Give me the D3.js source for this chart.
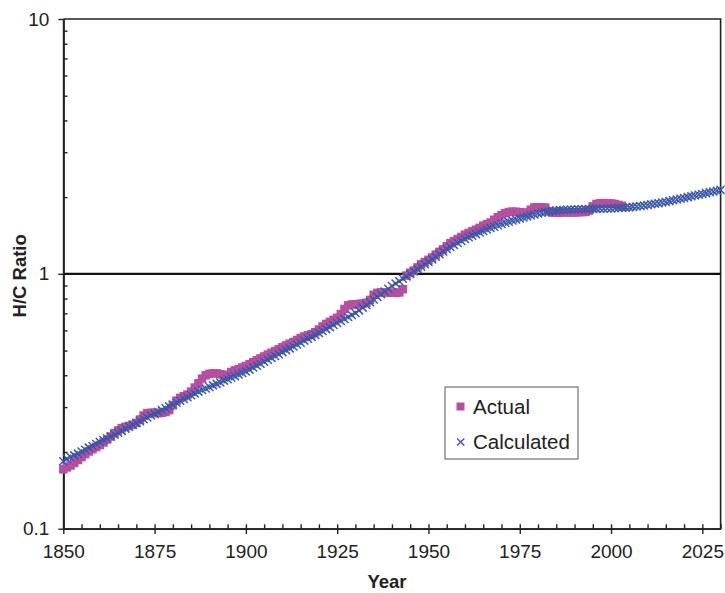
<!DOCTYPE html>
<html>
<head>
<meta charset="utf-8">
<script src="https://cdn.jsdelivr.net/npm/d3@7"></script>
<style>
  body { margin: 0; background: #fff; }
  svg { display: block; font-family: "Liberation Sans", Arial, sans-serif; }
</style>
</head>
<body>
<svg id="chart" width="725" height="593"></svg>
<script>
// H/C ratio, actual (1850-2003) and calculated (1850-2030), one value per year
const actualYears = d3.range(1850, 2004);
const actualValues = [
  0.171, 0.174, 0.177, 0.181, 0.186, 0.191, 0.196, 0.201, 0.205, 0.209,
  0.213, 0.218, 0.224, 0.230, 0.237, 0.243, 0.248, 0.251, 0.253, 0.256,
  0.260, 0.268, 0.278, 0.284, 0.285, 0.285, 0.284, 0.285, 0.287, 0.292,
  0.305, 0.318, 0.326, 0.331, 0.336, 0.345, 0.358, 0.372, 0.388, 0.400,
  0.405, 0.407, 0.407, 0.404, 0.398, 0.402, 0.412, 0.418, 0.423, 0.429,
  0.435, 0.442, 0.450, 0.458, 0.466, 0.474, 0.482, 0.490, 0.498, 0.506,
  0.515, 0.524, 0.532, 0.540, 0.550, 0.560, 0.568, 0.574, 0.580, 0.590,
  0.605, 0.622, 0.636, 0.648, 0.660, 0.672, 0.695, 0.728, 0.752, 0.758,
  0.760, 0.762, 0.765, 0.770, 0.790, 0.828, 0.842, 0.846, 0.846, 0.844,
  0.843, 0.842, 0.845, 0.870, 0.985, 1.010, 1.030, 1.060, 1.090, 1.112,
  1.135, 1.160, 1.190, 1.220, 1.248, 1.285, 1.320, 1.345, 1.370, 1.395,
  1.425, 1.447, 1.468, 1.490, 1.515, 1.545, 1.565, 1.590, 1.630, 1.668,
  1.700, 1.730, 1.748, 1.755, 1.752, 1.745, 1.740, 1.735, 1.785, 1.822,
  1.826, 1.825, 1.820, 1.760, 1.738, 1.735, 1.738, 1.745, 1.742, 1.740,
  1.742, 1.745, 1.748, 1.750, 1.770, 1.840, 1.880, 1.892, 1.895, 1.893,
  1.890, 1.880, 1.865, 1.850
];

const calcYears = d3.range(1850, 2031);
const calcValues = [
  0.184, 0.188, 0.191, 0.194, 0.197, 0.201, 0.204, 0.208, 0.211, 0.215,
  0.219, 0.223, 0.226, 0.230, 0.234, 0.238, 0.242, 0.247, 0.251, 0.255,
  0.260, 0.264, 0.269, 0.273, 0.278, 0.282, 0.287, 0.292, 0.297, 0.302,
  0.307, 0.312, 0.318, 0.323, 0.328, 0.334, 0.339, 0.345, 0.350, 0.355,
  0.360, 0.365, 0.370, 0.375, 0.381, 0.386, 0.392, 0.397, 0.403, 0.408,
  0.414, 0.421, 0.429, 0.436, 0.444, 0.452, 0.460, 0.468, 0.476, 0.484,
  0.493, 0.502, 0.510, 0.519, 0.528, 0.537, 0.547, 0.556, 0.566, 0.576,
  0.586, 0.597, 0.607, 0.618, 0.630, 0.641, 0.653, 0.665, 0.677, 0.689,
  0.702, 0.719, 0.737, 0.755, 0.774, 0.793, 0.812, 0.832, 0.853, 0.874,
  0.896, 0.916, 0.936, 0.956, 0.977, 0.999, 1.021, 1.043, 1.066, 1.090,
  1.114, 1.140, 1.167, 1.195, 1.223, 1.252, 1.275, 1.298, 1.322, 1.346,
  1.371, 1.391, 1.411, 1.432, 1.453, 1.474, 1.493, 1.512, 1.531, 1.550,
  1.570, 1.586, 1.602, 1.618, 1.634, 1.650, 1.665, 1.680, 1.695, 1.710,
  1.726, 1.737, 1.747, 1.756, 1.765, 1.774, 1.778, 1.781, 1.784, 1.787,
  1.790, 1.792, 1.793, 1.795, 1.796, 1.798, 1.799, 1.801, 1.802, 1.804,
  1.806, 1.809, 1.812, 1.816, 1.819, 1.823, 1.831, 1.839, 1.847, 1.855,
  1.864, 1.874, 1.884, 1.894, 1.904, 1.915, 1.929, 1.943, 1.957, 1.971,
  1.986, 2.000, 2.015, 2.029, 2.044, 2.059, 2.074, 2.089, 2.104, 2.120,
  2.135
];

const xTicks = [1850, 1875, 1900, 1925, 1950, 1975, 2000, 2025];
const xMinorTicks = d3.range(1850, 2031, 5);
const yTicks = [0.1, 1, 10];
const yTickLabels = ["0.1", "1", "10"];
const yMinorTicks = [0.2, 0.3, 0.4, 0.5, 0.6, 0.7, 0.8, 0.9, 2, 3, 4, 5, 6, 7, 8, 9];
const seriesNames = ["Actual", "Calculated"];

const pink = "#b64f9f";
const blue = "#3b57a8";
const ink = "#222";

const plotL = 63.3, plotR = 720.6, plotT = 19, plotB = 528.7;

const svg = d3.select("#chart");

const x = d3.scaleLinear().domain([1850, 2030]).range([plotL, plotR]);
const y = d3.scaleLog().domain([0.1, 10]).range([plotB, plotT]);

// frame (top + right)
svg.append("path")
  .attr("d", `M${plotL},${plotT}H${plotR}V${plotB}`)
  .attr("fill", "none")
  .attr("stroke", ink)
  .attr("stroke-width", 1.6);

// line at 1
svg.append("line")
  .attr("x1", plotL).attr("x2", plotR)
  .attr("y1", y(1)).attr("y2", y(1))
  .attr("stroke", "#111")
  .attr("stroke-width", 2.2);

// y axis: major ticks outward, minor inward
svg.append("g")
  .attr("transform", `translate(${plotL},0)`)
  .call(d3.axisLeft(y).tickValues(yTicks)
    .tickFormat((d, i) => yTickLabels[i])
    .tickSizeInner(5).tickSizeOuter(0).tickPadding(9));
svg.append("g")
  .attr("transform", `translate(${plotL},0)`)
  .call(d3.axisLeft(y).tickValues(yMinorTicks).tickFormat("")
    .tickSizeInner(-4.2).tickSizeOuter(0));

// x axis
svg.append("g")
  .attr("transform", `translate(0,${plotB})`)
  .call(d3.axisBottom(x).tickValues(xTicks).tickFormat(d3.format("d"))
    .tickSizeInner(5.3).tickSizeOuter(0).tickPadding(11));
svg.append("g")
  .attr("transform", `translate(0,${plotB})`)
  .call(d3.axisBottom(x).tickValues(xMinorTicks).tickFormat("")
    .tickSizeInner(-4.4).tickSizeOuter(0));

svg.selectAll(".domain").attr("stroke", ink).attr("stroke-width", 1.8);
svg.selectAll(".tick line").attr("stroke", ink).attr("stroke-width", 1.4);
svg.selectAll(".tick text")
  .attr("fill", ink)
  .style("font-size", "19px")
  .style("font-family", "'Liberation Sans', Arial, sans-serif");

// axis titles
svg.append("text")
  .attr("x", 387).attr("y", 588)
  .attr("text-anchor", "middle")
  .style("font-weight", "bold").style("font-size", "18.5px")
  .attr("fill", ink)
  .text("Year");

svg.append("text")
  .attr("transform", `translate(26,${(plotT + plotB) / 2 + 2}) rotate(-90)`)
  .attr("text-anchor", "middle")
  .style("font-weight", "bold").style("font-size", "18.5px")
  .attr("fill", ink)
  .text("H/C Ratio");

const actual = actualYears.map((yr, i) => ({ yr, v: actualValues[i] }));
const calc = calcYears.map((yr, i) => ({ yr, v: calcValues[i] }));

const sq = 8.5;
const xMark = "M-4,-4L4,4M-4,4L4,-4";

svg.append("g").selectAll("rect")
  .data(actual)
  .join("rect")
  .attr("x", d => x(d.yr) - sq / 2)
  .attr("y", d => y(d.v) - sq / 2)
  .attr("width", sq).attr("height", sq)
  .attr("fill", pink);

svg.append("g").selectAll("path")
  .data(calc)
  .join("path")
  .attr("transform", d => `translate(${x(d.yr)},${y(d.v)})`)
  .attr("d", xMark)
  .attr("fill", "none")
  .attr("stroke", blue)
  .attr("stroke-width", 1.5);

// legend
const lg = svg.append("g").attr("transform", "translate(445,387)");
lg.append("rect")
  .attr("width", 133).attr("height", 72)
  .attr("fill", "#fff")
  .attr("stroke", "#555").attr("stroke-width", 1);
lg.append("rect")
  .attr("x", 11.5).attr("y", 15.5).attr("width", 8).attr("height", 8)
  .attr("fill", pink);
lg.append("path")
  .attr("transform", "translate(15.7,55)")
  .attr("d", "M-3.6,-3.6L3.6,3.6M-3.6,3.6L3.6,-3.6")
  .attr("stroke", blue).attr("stroke-width", 1.4);
lg.selectAll("text.lab")
  .data(seriesNames)
  .join("text")
  .attr("class", "lab")
  .attr("x", 28)
  .attr("y", (d, i) => 19.5 + i * 35.5)
  .attr("dy", "0.36em")
  .style("font-size", "20.5px")
  .attr("fill", ink)
  .text(d => d);
</script>
</body>
</html>
